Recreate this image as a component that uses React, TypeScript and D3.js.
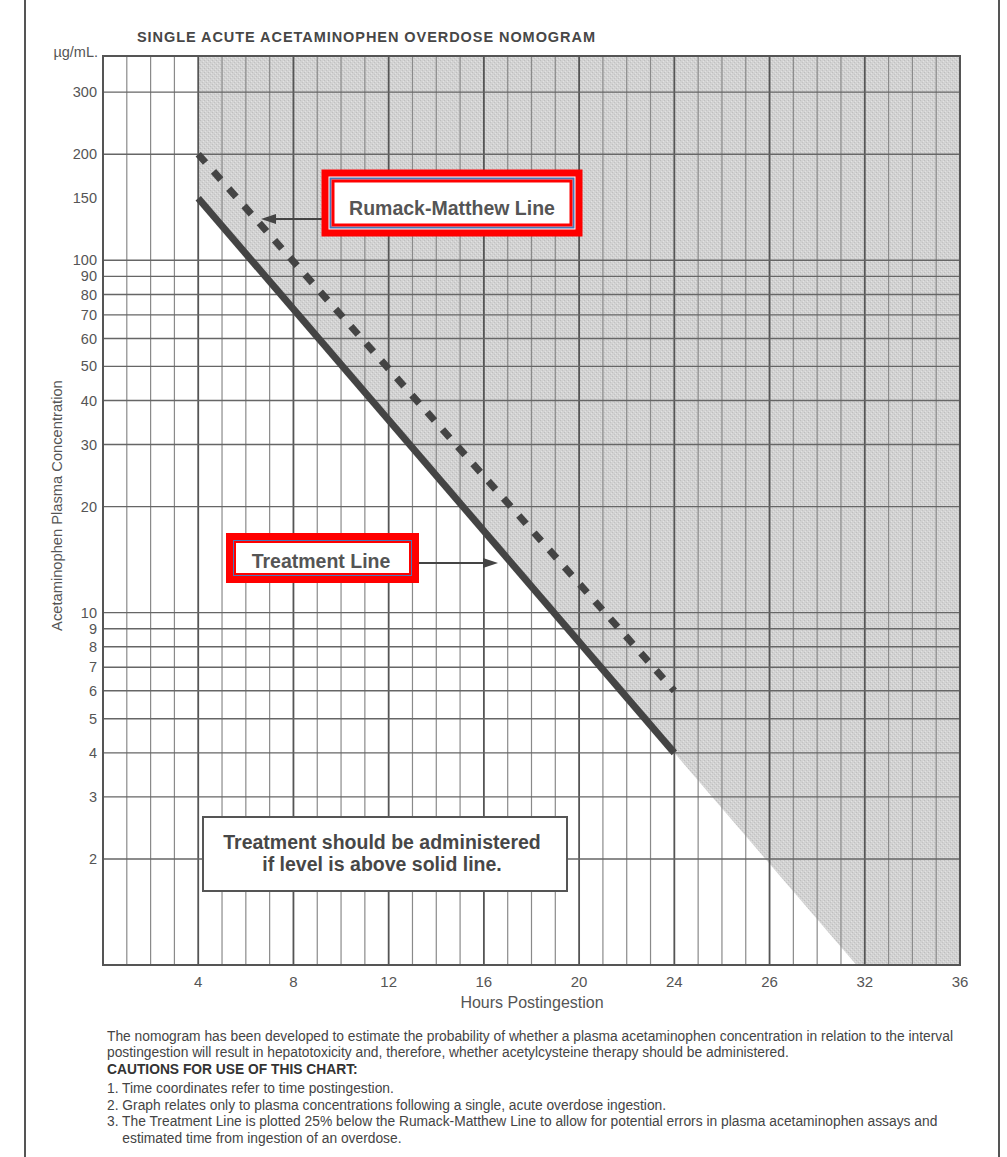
import React from 'react';
import * as d3 from 'd3';

// hours postingestion (x axis)
const hourTicks = [4, 8, 12, 16, 20, 24, 28, 32, 36];
const hourLabels = ['4', '8', '12', '16', '20', '24', '26', '32', '36'];
const hourGrid = d3.range(0, 37);

// concentration (y axis, log)
const concLabels = [300, 200, 150, 100, 90, 80, 70, 60, 50, 40, 30, 20, 10, 9, 8, 7, 6, 5, 4, 3, 2];
const concGrid = [300, 200, 100, 90, 80, 70, 60, 50, 40, 30, 20, 10, 9, 8, 7, 6, 5, 4, 3, 2];

// the two lines: [hour, µg/mL]
const treatmentLine: [number, number][] = [[4, 150], [24, 4]];
const rumackLine: [number, number][] = [[4, 200], [24, 6]];

const notes = [
  'The nomogram has been developed to estimate the probability of whether a plasma acetaminophen concentration in relation to the interval',
  'postingestion will result in hepatotoxicity and, therefore, whether acetylcysteine therapy should be administered.',
];
const cautions = [
  '1. Time coordinates refer to time postingestion.',
  '2. Graph relates only to plasma concentrations following a single, acute overdose ingestion.',
  '3. The Treatment Line is plotted 25% below the Rumack-Matthew Line to allow for potential errors in plasma acetaminophen assays and',
  '    estimated time from ingestion of an overdose.',
];

const INK = '#474747';
const SANS = 'Liberation Sans, Arial, Helvetica, sans-serif';

export default function App() {
  const width = 1007;
  const height = 1157;

  const x = d3.scaleLinear().domain([0, 36]).range([103, 960]);
  const y = d3.scaleLog().domain([1, 380]).range([965, 56]);

  const [x0, x1] = x.range();
  const [yBottom, yTop] = y.range();

  // shaded zone: above the treatment line, extended past 24 h with the same decay
  const [t0, t1] = treatmentLine;
  const decay = Math.log10(t0[1] / t1[1]) / (t1[0] - t0[0]);
  const cMin = y.domain()[0];
  const cMax = y.domain()[1];
  const hourAtFloor = t1[0] + Math.log10(t1[1] / cMin) / decay;
  const shade: [number, number][] = [
    [t0[0], cMax],
    [36, cMax],
    [36, cMin],
    [hourAtFloor, cMin],
    [t1[0], t1[1]],
    [t0[0], t0[1]],
  ];
  const line = d3.line<[number, number]>().x(d => x(d[0])).y(d => y(d[1]));

  return (
    <svg width={width} height={height} style={{ position: 'absolute', left: 0, top: 0, background: '#fff' }}>
      <defs>
        <pattern id="stipple" width="4" height="4" patternUnits="userSpaceOnUse">
          <rect width="4" height="4" fill="#d2d2d2" />
          <rect x="0" y="0" width="1" height="1" fill="#bebebe" />
          <rect x="2" y="2" width="1" height="1" fill="#c2c2c2" />
          <rect x="3" y="1" width="1" height="1" fill="#e2e2e2" />
          <rect x="1" y="3" width="1" height="1" fill="#e0e0e0" />
        </pattern>
      </defs>

      {/* page edges */}
      <line x1={25} x2={25} y1={0} y2={height} stroke="#555" strokeWidth={2} />
      <line x1={999} x2={999} y1={0} y2={height} stroke="#555" strokeWidth={2} />

      <text x={137} y={42} fontFamily={SANS} fontWeight="bold" fontSize={14.5} fill={INK} textLength={458}>
        SINGLE ACUTE ACETAMINOPHEN OVERDOSE NOMOGRAM
      </text>

      <path d={line(shade) || ''} fill="url(#stipple)" />

      {/* vertical grid */}
      {hourGrid.map(h => (
        <line
          key={'v' + h}
          x1={x(h)}
          x2={x(h)}
          y1={yTop}
          y2={yBottom}
          stroke={h % 4 === 0 ? '#555' : '#8a8a8a'}
          strokeWidth={h % 4 === 0 ? 1.8 : 1.2}
        />
      ))}
      {/* horizontal grid */}
      {concGrid.map(c => (
        <line key={'h' + c} x1={x0} x2={x1} y1={y(c)} y2={y(c)} stroke="#666" strokeWidth={1.4} />
      ))}
      <rect x={x0} y={yTop} width={x1 - x0} height={yBottom - yTop} fill="none" stroke="#555" strokeWidth={2} />

      {/* lines */}
      <path d={line(rumackLine) || ''} fill="none" stroke="#444" strokeWidth={7} strokeDasharray="11,12" />
      <path d={line(treatmentLine) || ''} fill="none" stroke="#444" strokeWidth={7} strokeLinecap="butt" />

      {/* y ticks */}
      {concLabels.map(c => (
        <text key={'yl' + c} x={97} y={y(c)} dy="0.35em" textAnchor="end" fontFamily={SANS} fontSize={14.5} fill="#555">
          {c}
        </text>
      ))}
      <text x={98} y={57} textAnchor="end" fontFamily={SANS} fontSize={14.5} fill="#555">µg/mL.</text>
      <text
        transform={`translate(62,${(y(2) + y(300)) / 2 + 30}) rotate(-90)`}
        textAnchor="middle"
        fontFamily={SANS}
        fontSize={14.7}
        fill="#555"
      >
        Acetaminophen Plasma Concentration
      </text>

      {/* x ticks */}
      {hourTicks.map((h, i) => (
        <text key={'xl' + h} x={x(h)} y={987} textAnchor="middle" fontFamily={SANS} fontSize={15} fill="#555">
          {hourLabels[i]}
        </text>
      ))}
      <text x={532} y={1008} textAnchor="middle" fontFamily={SANS} fontSize={16} fill="#555">
        Hours Postingestion
      </text>

      {/* Rumack-Matthew label */}
      <line x1={322} x2={272} y1={219} y2={219} stroke="#444" strokeWidth={2} />
      <path d="M261,219 L276,214 L276,224 Z" fill="#444" />
      <rect x={325} y={173} width={254} height={60} fill="#fff" stroke="#f00" strokeWidth={7} />
      <rect x={330.5} y={178.5} width={243} height={49} fill="none" stroke="#4a78b8" strokeWidth={2} />
      <rect x={333} y={181} width={238} height={44} fill="none" stroke="#f00" strokeWidth={3} />
      <text x={452} y={208} dy="0.35em" textAnchor="middle" fontFamily={SANS} fontWeight="bold" fontSize={19.5} fill="#555">
        Rumack-Matthew Line
      </text>

      {/* Treatment label */}
      <line x1={418} x2={486} y1={563} y2={563} stroke="#444" strokeWidth={2} />
      <path d="M498,563 L483,558 L483,568 Z" fill="#444" />
      <rect x={229.5} y={536.5} width={186} height={43} fill="#fff" stroke="#f00" strokeWidth={7} />
      <rect x={233.5} y={540.5} width={178} height={35} fill="none" stroke="#4a78b8" strokeWidth={1} />
      <rect x={235} y={542} width={175} height={32} fill="none" stroke="#f00" strokeWidth={2} />
      <text x={321} y={561} dy="0.35em" textAnchor="middle" fontFamily={SANS} fontWeight="bold" fontSize={19.5} fill="#555">
        Treatment Line
      </text>

      {/* note box */}
      <rect x={203} y={817} width={364} height={74} fill="#fff" stroke="#555" strokeWidth={2} />
      <text x={382} y={849} textAnchor="middle" fontFamily={SANS} fontWeight="bold" fontSize={19.5} fill={INK}>
        Treatment should be administered
      </text>
      <text x={382} y={871} textAnchor="middle" fontFamily={SANS} fontWeight="bold" fontSize={19.5} fill={INK}>
        if level is above solid line.
      </text>

      {/* footnotes */}
      {notes.map((t, i) => (
        <text key={'n' + i} x={107} y={1041 + i * 16} fontFamily={SANS} fontSize={13.8} fill="#444">
          {t}
        </text>
      ))}
      <text x={107} y={1074} fontFamily={SANS} fontWeight="bold" fontSize={13.8} fill="#333">
        CAUTIONS FOR USE OF THIS CHART:
      </text>
      {cautions.map((t, i) => (
        <text key={'c' + i} x={107} y={1093 + i * 16.7} fontFamily={SANS} fontSize={13.8} fill="#444" style={{ whiteSpace: 'pre' }}>
          {t}
        </text>
      ))}
    </svg>
  );
}
